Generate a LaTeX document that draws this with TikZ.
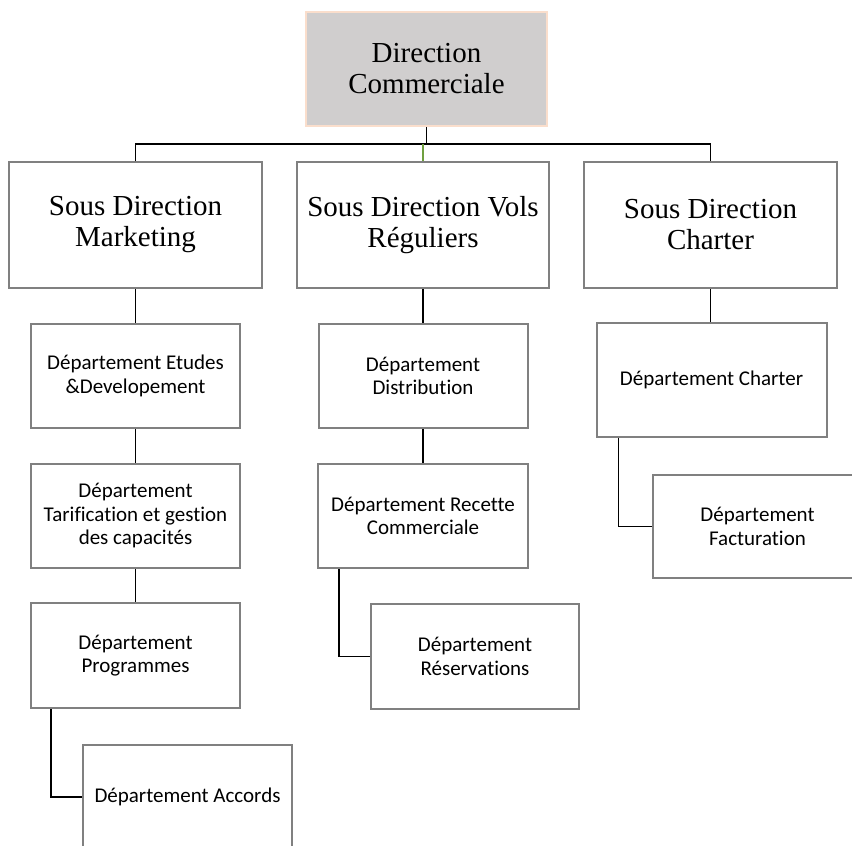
\documentclass[tikz,border=0pt]{standalone}
\usepackage{fontspec}
\setmainfont{Liberation Serif}
\newfontfamily\calib[Ligatures=NoCommon]{Carlito}
\definecolor{boxline}{RGB}{128,128,128}
\definecolor{topfill}{RGB}{208,206,206}
\definecolor{topline}{RGB}{250,222,204}
\definecolor{linkgreen}{RGB}{112,160,64}
\begin{document}
\begin{tikzpicture}[x=1pt,y=-1pt,
  orgbox/.style={draw=boxline,line width=2pt,fill=white,inner sep=0pt,align=center},
  headbox/.style={orgbox,font=\fontsize{29}{31}\selectfont},
  deptbox/.style={orgbox,font=\calib\fontsize{21}{23.5}\selectfont},
  topbox/.style={draw=topline,fill=topfill,line width=2pt,inner sep=0pt,align=center,
    font=\fontsize{29}{31}\selectfont},
  conn/.style={draw=black,line width=1.4pt}]
\useasboundingbox (0,0) rectangle (852,846);

% top of the chart
\node[topbox,minimum width=241pt,minimum height=114pt] (dc) at (426.5,69) {Direction\\Commerciale};

% sub-directions
\node[headbox,minimum width=253pt,minimum height=126pt] (sm) at (135.5,225) {Sous Direction\\Marketing};
\node[headbox,minimum width=252pt,minimum height=126pt] (sv) at (423,225) {Sous Direction Vols\\Réguliers};
\node[headbox,minimum width=253pt,minimum height=126pt] (sc) at (710.5,225) {Sous Direction\\Charter};

% marketing departments
\node[deptbox,minimum width=209pt,minimum height=104pt] (etudes) at (135.5,376) {Département Etudes\\\&Developement};
\node[deptbox,minimum width=209pt,minimum height=104pt] (tarif) at (135.5,516) {Département\\Tarification et gestion\\des capacités};
\node[deptbox,minimum width=209pt,minimum height=105pt] (prog) at (135.5,655.5) {Département\\Programmes};
\node[deptbox,minimum width=209pt,minimum height=104pt] (accords) at (187.5,797) {Département Accords};

% scheduled flights departments
\node[deptbox,minimum width=209pt,minimum height=104pt] (distrib) at (423,376) {Département\\Distribution};
\node[deptbox,minimum width=210pt,minimum height=104pt] (recette) at (423,516) {Département Recette\\Commerciale};
\node[deptbox,minimum width=208pt,minimum height=105pt] (resa) at (475,656.5) {Département\\Réservations};

% charter departments
\node[deptbox,minimum width=230pt,minimum height=114pt] (dcharter) at (711.5,380) {Département Charter};
\node[deptbox,minimum width=209pt,minimum height=103pt] (factu) at (757.5,526.5) {Département\\Facturation};

% bus between the head and the sub-directions
\coordinate (bus) at (0,144);
\draw[conn] (dc.south) -- (dc.south |- bus);
\draw[conn] (sm.north) -- (sm.north |- bus) -- (sc.north |- bus) -- (sc.north);
\draw[draw=linkgreen,line width=1.4pt] (sv.north |- bus) -- (sv.north);

% vertical chains
\draw[conn] (sm.south) -- (etudes.north);
\draw[conn] (etudes.south) -- (tarif.north);
\draw[conn] (tarif.south) -- (prog.north);
\draw[conn] (sv.south) -- (distrib.north);
\draw[conn] (distrib.south) -- (recette.north);
\draw[conn] (sc.south) -- (sc.south |- dcharter.north);

% elbow links to offset boxes
\draw[conn] ([xshift=21pt]prog.south west) |- (accords.west);
\draw[conn] ([xshift=22pt]recette.south west) |- (resa.west);
\draw[conn] ([xshift=23pt]dcharter.south west) |- (factu.west);
\end{tikzpicture}
\end{document}
